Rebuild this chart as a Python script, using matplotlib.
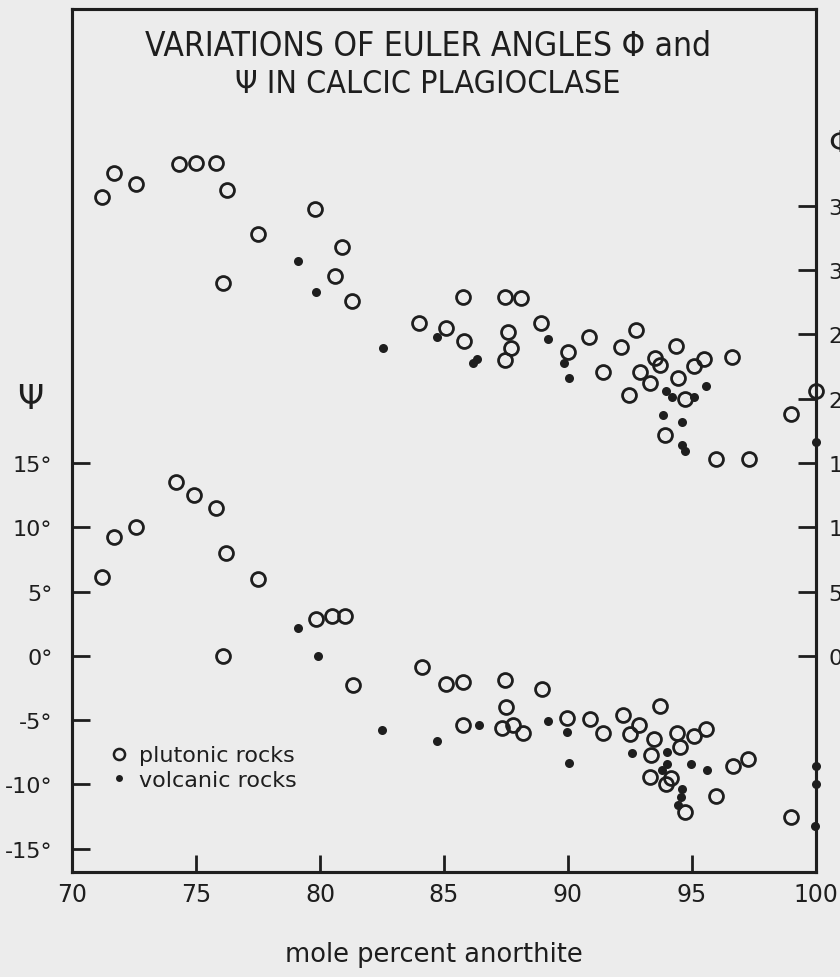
import matplotlib.pyplot as plt
from matplotlib.lines import Line2D

# =========================
# DATA
# =========================
# upper band: Euler angle Phi (right axis)
phi_plut_x = [71.2, 71.7, 72.6, 74.3, 75.0, 75.8, 76.25, 79.8, 77.5, 76.1,
              80.9, 80.6, 81.3, 84.0, 85.1, 85.75, 85.8, 87.45, 88.1, 87.6,
              87.7, 87.45, 88.9, 90.0, 90.85, 92.75, 92.15, 91.4, 94.35, 93.5,
              93.7, 92.9, 93.3, 92.45, 94.45, 95.5, 95.1, 96.6, 94.7, 93.9,
              95.95, 97.3, 99.0, 100.0]
phi_plut_y = [35.7, 37.5, 36.7, 38.2, 38.3, 38.3, 36.2, 34.7, 32.8, 29.0,
              31.8, 29.5, 27.6, 25.9, 25.5, 27.9, 24.5, 27.9, 27.8, 25.2,
              23.9, 23.0, 25.9, 23.6, 24.8, 25.3, 24.0, 22.1, 24.1, 23.15,
              22.6, 22.1, 21.2, 20.3, 21.6, 23.1, 22.5, 23.2, 20.0, 17.2,
              15.3, 15.3, 18.8, 20.6]
phi_volc_x = [79.1, 79.85, 82.55, 84.7, 86.35, 86.15, 89.2, 89.85, 90.05,
              95.55, 95.1, 93.95, 94.2, 93.85, 94.6, 94.6, 94.7, 100.0]
phi_volc_y = [30.7, 28.3, 23.9, 24.8, 23.1, 22.8, 24.6, 22.8, 21.6,
              21.0, 20.1, 20.6, 20.1, 18.7, 18.2, 16.4, 15.9, 16.6]

# lower band: Euler angle Psi (left axis)
psi_plut_x = [71.2, 71.7, 72.6, 74.2, 74.9, 75.8, 76.2, 77.5, 76.1, 79.85,
              80.5, 81.0, 81.35, 84.1, 85.1, 85.75, 85.75, 87.45, 87.5, 87.35,
              87.8, 88.2, 88.95, 89.95, 90.9, 91.4, 92.2, 93.7, 92.85, 92.5,
              93.45, 93.35, 94.4, 94.5, 95.1, 95.55, 93.3, 93.95, 94.15, 94.7,
              96.65, 97.25, 95.95, 99.0]
psi_plut_y = [6.1, 9.2, 10.0, 13.5, 12.5, 11.5, 8.0, 6.0, 0.0, 2.85,
              3.1, 3.1, -2.3, -0.9, -2.2, -2.0, -5.4, -1.9, -4.0, -5.6,
              -5.4, -6.0, -2.6, -4.85, -4.9, -6.0, -4.6, -3.9, -5.4, -6.1,
              -6.45, -7.7, -6.0, -7.1, -6.2, -5.7, -9.4, -10.0, -9.5, -12.15,
              -8.6, -8.0, -10.9, -12.5]
psi_volc_x = [79.1, 79.9, 82.5, 84.7, 86.4, 89.2, 89.95, 90.05, 92.6, 94.0,
              94.0, 93.8, 94.95, 95.6, 94.6, 94.55, 94.45, 100.0, 100.0, 99.95]
psi_volc_y = [2.15, 0.0, -5.75, -6.6, -5.35, -5.1, -5.9, -8.3, -7.55, -7.5,
              -8.4, -8.85, -8.4, -8.9, -10.35, -11.0, -11.6, -8.6, -10.0, -13.2]

x_ticks = [70, 75, 80, 85, 90, 95, 100]
psi_ticks = [-15, -10, -5, 0, 5, 10, 15]
phi_ticks = [0, 5, 10, 15, 20, 25, 30, 35]

# =========================
# STYLE
# =========================
paper = "#ececec"
ink = "#1e1e1e"
plt.rcParams["font.family"] = ["DejaVu Sans"]

fig = plt.figure(figsize=(8.4, 9.78), dpi=100, facecolor=paper)
ax = fig.add_axes([0.0857, 0.1074, 0.8857, 0.8826])
ax.set_facecolor(paper)
ax2 = ax.twinx()

ylim = (-16.8, 50.3)
ax.set_xlim(70, 100)
ax.set_ylim(*ylim)
ax2.set_ylim(*ylim)

circ = dict(marker="o", linestyle="none", mfc="none", mec=ink, ms=10, mew=2.0, clip_on=False)
dot = dict(marker="o", linestyle="none", mfc=ink, mec=ink, ms=6.5, mew=0, clip_on=False)

ax2.plot(phi_plut_x, phi_plut_y, **circ)
ax2.plot(phi_volc_x, phi_volc_y, **dot)
ax.plot(psi_plut_x, psi_plut_y, **circ)
ax.plot(psi_volc_x, psi_volc_y, **dot)

# =========================
# AXES
# =========================
for a in (ax, ax2):
    for s in a.spines.values():
        s.set_linewidth(2.2)
        s.set_color(ink)

ax.set_xticks(x_ticks)
ax.set_xticklabels([str(v) for v in x_ticks], fontsize=17, color=ink)
ax.tick_params(axis="x", direction="in", length=12, width=2, pad=7, colors=ink)

ax.set_yticks(psi_ticks)
ax.set_yticklabels([f"{v}°" for v in psi_ticks], fontsize=16, color=ink)
ax.tick_params(axis="y", direction="in", length=13, width=2, pad=14, colors=ink)

# right labels run off the page edge, as in the scan
ax2.set_yticks(phi_ticks)
ax2.set_yticklabels([f"{v}°" for v in phi_ticks], fontsize=16, color=ink)
ax2.tick_params(axis="y", direction="in", length=13, width=2, pad=9, colors=ink)

ax.text(-0.056, 0.548, "Ψ", transform=ax.transAxes, fontsize=24,
        ha="center", va="center", color=ink)
ax.text(1.017, 0.845, "Φ", transform=ax.transAxes, fontsize=22,
        ha="left", va="center", color=ink, clip_on=False)

# title inside the frame
ax.text(0.478, 0.958, "VARIATIONS OF EULER ANGLES Φ and", transform=ax.transAxes,
        fontsize=24, fontstretch="condensed", ha="center", va="center", color=ink)
ax.text(0.478, 0.913, "Ψ IN CALCIC PLAGIOCLASE", transform=ax.transAxes,
        fontsize=23, fontstretch="condensed", ha="center", va="center", color=ink)

fig.text(434 / 840, 1 - 955 / 978, "mole percent anorthite", fontsize=18.5,
         ha="center", va="center", color=ink)

# LEGEND
handles = [
    Line2D([], [], marker="o", linestyle="none", mfc="none", mec=ink, ms=8, mew=1.8),
    Line2D([], [], marker="o", linestyle="none", mfc=ink, mec=ink, ms=5, mew=0),
]
ax.legend(handles, ["plutonic rocks", "volcanic rocks"], loc="lower left",
          bbox_to_anchor=(0.025, 0.072), frameon=False, fontsize=16,
          handlelength=0.8, handletextpad=0.5, labelspacing=0.2, labelcolor=ink)

fig.savefig("out.png", dpi=100, facecolor=paper)
